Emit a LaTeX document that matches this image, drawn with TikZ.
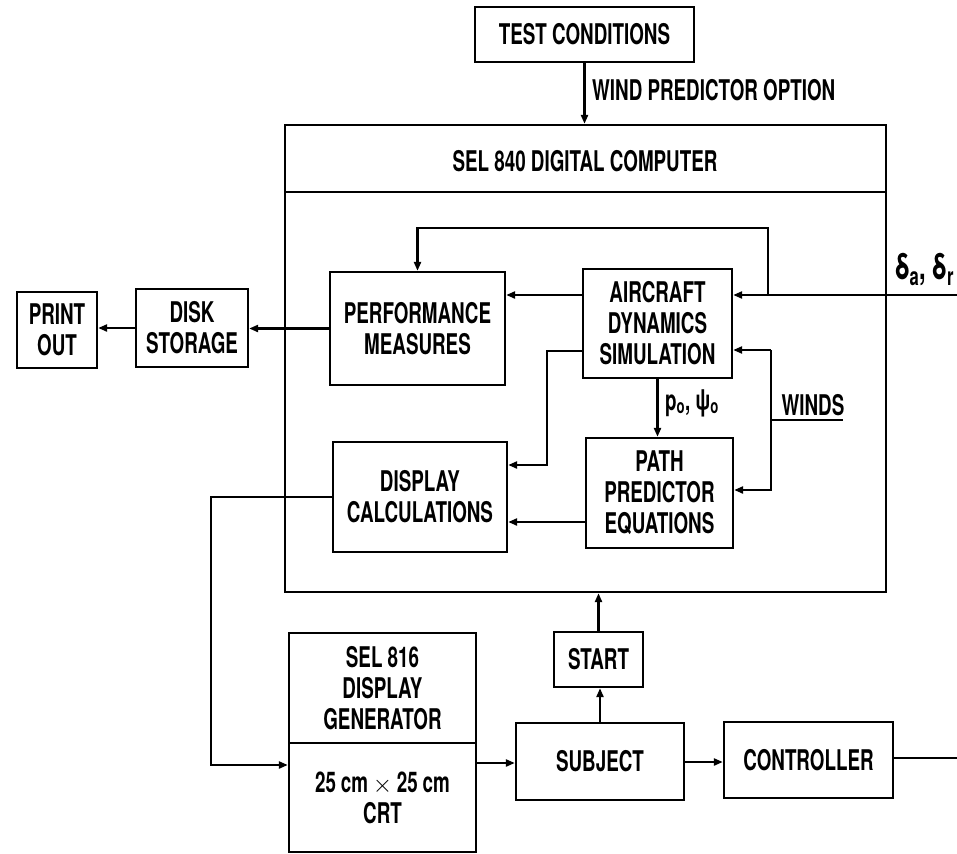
\documentclass[tikz,border=0pt]{standalone}
\usepackage{fontspec}
\setmainfont{TeX Gyre Heros}[FakeStretch=0.66]
\usetikzlibrary{arrows.meta}
\tikzset{
  blk/.style={draw, line width=2.3pt, inner sep=0pt, align=center,
    font=\fontsize{28.5}{31}\selectfont\bfseries},
  lbl/.style={inner sep=0pt, font=\fontsize{28.5}{31}\selectfont\bfseries},
  conn/.style={line width=2.5pt},
  arr/.style={conn, -{Triangle[length=9pt,width=7pt]}},
}
\begin{document}
\begin{tikzpicture}[x=1pt,y=-1pt]
\useasboundingbox (0,0) rectangle (957,853);
\clip (0,0) rectangle (957,853);
\fill[white] (0,0) rectangle (957,853);

% boxes
\node[blk, minimum width=219pt, minimum height=55pt] (test) at (584.5,34.5) {TEST CONDITIONS};
\node[blk, minimum width=601pt, minimum height=467pt] (comp) at (585.5,358.5) {};
\node[lbl] (comptitle) at (585,161) {SEL 840 DIGITAL COMPUTER};
\coordinate (sepL) at (285,192);
\coordinate (sepR) at (886,192);
\draw[conn] (sepL) -- (sepR);

\node[blk, minimum width=80pt, minimum height=76pt] (print) at (57,330) {PRINT\\OUT};
\node[blk, minimum width=112pt, minimum height=78pt] (disk) at (192,328) {DISK\\STORAGE};
\node[blk, minimum width=175pt, minimum height=113pt] (perf) at (417.5,328.5) {PERFORMANCE\\MEASURES};
\node[blk, minimum width=149pt, minimum height=109pt] (air) at (657.5,323.5) {AIRCRAFT\\DYNAMICS\\SIMULATION};
\node[blk, minimum width=174pt, minimum height=110pt] (disp) at (420,497) {DISPLAY\\CALCULATIONS};
\node[blk, minimum width=147pt, minimum height=110pt] (path) at (659.5,493) {PATH\\PREDICTOR\\EQUATIONS};

\node[blk, minimum width=187pt, minimum height=110pt] (gen) at (382.5,688) {SEL 816\\DISPLAY\\GENERATOR};
\node[blk, minimum width=187pt, minimum height=109pt] (crt) at (382.5,797.5) {25\,cm\,$\times$\,25\,cm\\CRT};
\node[blk, minimum width=89pt, minimum height=55pt] (start) at (598.5,659.5) {START};
\node[blk, minimum width=168pt, minimum height=77pt] (subj) at (600,761.5) {SUBJECT};
\node[blk, minimum width=169pt, minimum height=76pt] (ctrl) at (808.5,760) {CONTROLLER};

% labels
\node[lbl, anchor=west] (wpo) at (592,90) {WIND PREDICTOR OPTION};
\node[lbl, anchor=west] (pq) at (665,403) {p\textsubscript{o}, ψ\textsubscript{o}};
\node[lbl, anchor=south] (winds) at (813,416) {WINDS};
\node[lbl, anchor=west, font=\fontsize{36}{36}\selectfont\bfseries] (delta) at (895,270) {δ\textsubscript{a}, δ\textsubscript{r}};

% coordinates
\coordinate (dR) at (960,295);
\coordinate (J1) at (768,295);
\coordinate (topY) at (0,228);
\coordinate (k1) at (547,351);
\coordinate (k2) at (547,465);
\coordinate (pd) at (0,522);
\coordinate (w1) at (771,350);
\coordinate (w2) at (771,490);
\coordinate (w3) at (771,420);
\coordinate (w4) at (843,420);
\coordinate (m1) at (211,497);
\coordinate (m2) at (211,765);
\coordinate (s1) at (0,763);
\coordinate (c1) at (0,762);
\coordinate (cE) at (960,758);

% connectors
\draw[arr] (test.south) -- (test.south |- comp.north);
\draw[arr] (dR) -- (dR -| air.east);
\draw[arr] (J1) -- (J1 |- topY) -| (perf.north);
\draw[arr] (air.west |- dR) -- (perf.east |- dR);
\draw[arr] (perf.west) -- (perf.west -| disk.east);
\draw[arr] (disk.west) -- (disk.west -| print.east);
\draw[arr] (air.west |- k1) -- (k1) -- (k2) -- (k2 -| disp.east);
\draw[arr] (path.west |- pd) -- (disp.east |- pd);
\draw[arr] (air.south) -- (air.south |- path.north);
\draw[arr] (w1) -- (w1 -| air.east);
\draw[arr] (w1) -- (w2) -- (w2 -| path.east);
\draw[conn] (w3) -- (w4);
\draw[arr] (disp.west) -- (m1) -- (m2) -- (m2 -| crt.west);
\draw[arr] (crt.east |- s1) -- (subj.west |- s1);
\draw[arr] (subj.east |- c1) -- (ctrl.west |- c1);
\draw[conn] (ctrl.east |- cE) -- (cE);
\draw[arr] (subj.north) -- (subj.north |- start.south);
\draw[arr] (start.north) -- (start.north |- comp.south);
\end{tikzpicture}
\end{document}
